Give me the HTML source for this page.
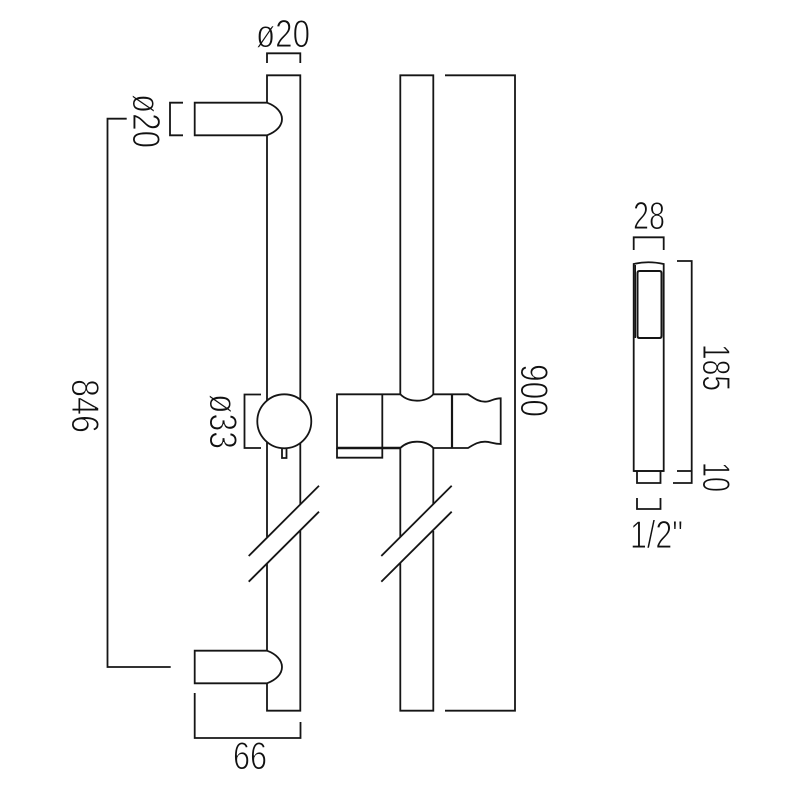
<!DOCTYPE html>
<html>
<head>
<meta charset="utf-8">
<style>
html,body{margin:0;padding:0;background:#fff;width:800px;height:800px;overflow:hidden}
svg{display:block}
text{font-family:"Liberation Sans",sans-serif;font-size:39px;fill:#111;stroke:#fff;stroke-width:1px;paint-order:fill stroke}
path,circle{fill:none;stroke:#151515;stroke-width:1.8}
</style>
</head>
<body>
<svg width="800" height="800" viewBox="0 0 800 800" xmlns="http://www.w3.org/2000/svg">
<!-- Left rail -->
<path d="M267 102.7V75.3H300.3V504"/>
<path d="M267 135.3V537"/>
<path d="M267 563V650.7"/>
<path d="M267 683.3V710.7H300.3V531"/>
<!-- Top arm -->
<path d="M267 102.7H194.7V135.3H267C276 132 282 126 282 119C282 112 276 106 267 102.7Z"/>
<!-- Bottom arm -->
<path d="M267 650.7H194.7V683.3H267C276 680 282 674 282 667C282 660 276 654 267 650.7Z"/>
<!-- Knob -->
<path d="M282 448V458H286.500V448"/>
<circle cx="284.300" cy="421.300" r="27" style="fill:#fff"/>
<!-- Break lines left -->
<path d="M319 485.700L248.700 556"/>
<path d="M319 511.700L248.700 581.700"/>

<!-- Right rail -->
<path d="M400.300 394.300V75.300H433.300V394.300"/>
<path d="M400.300 448V537"/>
<path d="M433.300 448V504"/>
<path d="M400.300 563V710.700H433.300V531"/>
<path d="M451.700 485.700L381.300 556"/>
<path d="M451.700 511.700L381.300 581.700"/>
<!-- Slider -->
<path d="M337 394.300H400.300C405 399 411 400.700 417 400.700C423 400.700 429 399 433.300 394.300H468C474 398 478 401.700 485 401.700C491 401.700 493 398.300 500.700 398.300V444C493 444 491 441.700 485 441.700C478 441.700 474 444.500 468 448H433.300C429 443.500 423 441.700 417 441.700C411 441.700 405 443.500 400.300 448H337Z"/>
<path d="M337 448V457.700H382.300V394.300"/>
<path d="M452 394.300V448" style="stroke-width:2.200"/>
<path d="M337 448H400.300" style="stroke-width:2.400"/>

<!-- Dimensions -->
<path d="M267 63V53.300H300.300V63"/>
<path d="M183 102.700H170V135.300H183"/>
<path d="M126.700 118.700H107.500V667H170.700"/>
<path d="M194.700 693V738H300.500V722"/>
<path d="M261 394.500H244.500V448H261"/>
<path d="M445 75.300H515V710.700H445"/>

<!-- Handset -->
<path d="M633.700 471V264Q648 260.500 663.700 264V471Z"/>
<path d="M633.700 471H663.700"/>
<path d="M637.500 273Q637.500 271 639.500 271H659.500Q661.500 271 661.500 273V336Q661.500 338 659.500 338H639.500Q637.500 338 637.500 336Z" style="stroke-width:2"/>
<path d="M635.300 265V338" style="stroke-width:1.400"/>
<path d="M637 471V483H660.500V471"/>
<path d="M633.700 250V237.300H663.700V250"/>
<path d="M677 261H691.700V483H673"/>
<path d="M677 471H691.700"/>
<path d="M637 498V509H660.500V498"/>

<!-- Labels -->
<text x="256" y="47" textLength="54" lengthAdjust="spacingAndGlyphs">ø20</text>
<text transform="translate(133 94) rotate(90)" textLength="54" lengthAdjust="spacingAndGlyphs">ø20</text>
<text transform="translate(72 379) rotate(90)" textLength="54" lengthAdjust="spacingAndGlyphs">846</text>
<text transform="translate(210 394) rotate(90)" textLength="55" lengthAdjust="spacingAndGlyphs">ø33</text>
<text x="233" y="769" textLength="34" lengthAdjust="spacingAndGlyphs">66</text>
<text transform="translate(521 364) rotate(90)" textLength="53" lengthAdjust="spacingAndGlyphs">900</text>
<text x="633" y="229" textLength="32" lengthAdjust="spacingAndGlyphs">28</text>
<text transform="translate(703 344) rotate(90)" textLength="47" lengthAdjust="spacingAndGlyphs">185</text>
<text transform="translate(703 462) rotate(90)" textLength="30" lengthAdjust="spacingAndGlyphs">10</text>
<text x="630" y="548" textLength="53" lengthAdjust="spacingAndGlyphs">1/2"</text>
</svg>
</body>
</html>
